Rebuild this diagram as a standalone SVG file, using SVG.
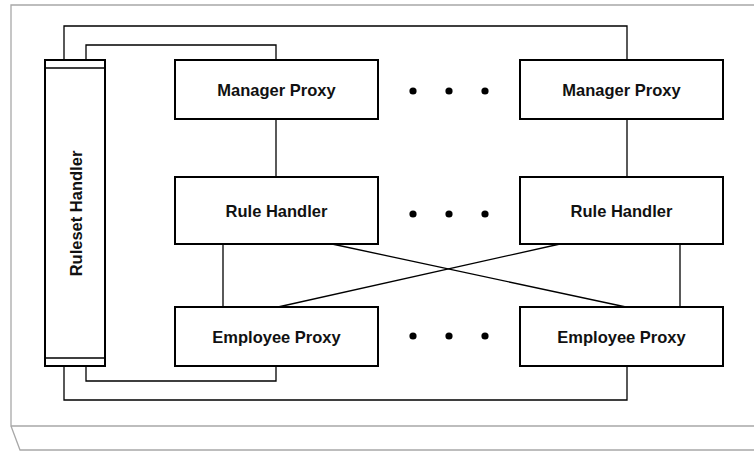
<svg xmlns="http://www.w3.org/2000/svg" width="754" height="451" viewBox="0 0 754 451">
<style>
.frame{fill:none;stroke:#a8a8a8;stroke-width:1.3}
.box{fill:#fff;stroke:#000;stroke-width:2}
.conn{fill:none;stroke:#000;stroke-width:1.3}
.lbl{font-family:"Liberation Sans",Arial,sans-serif;font-weight:bold;font-size:16.5px;fill:#111;text-anchor:middle}
.dot{fill:#000}
</style>
<rect width="754" height="451" fill="#fff"/>
<g id="frame">
<path class="frame" d="M754,5 H11 V426 H754 M11,426 L20,450 H754"/>
</g>
<g id="connectors">
<path class="conn" d="M64,60 V26 H627 V60"/>
<path class="conn" d="M86,60 V45 H276 V60"/>
<path class="conn" d="M64,366 V400 H627 V366"/>
<path class="conn" d="M86,366 V381 H276 V366"/>
<path class="conn" d="M276,119 V177"/>
<path class="conn" d="M627,119 V177"/>
<path class="conn" d="M223,244 V307"/>
<path class="conn" d="M680,244 V307"/>
<path class="conn" d="M332,244 L626,307"/>
<path class="conn" d="M560,244 L278,307"/>
</g>
<g id="ruleset-handler">
<rect class="box" x="45" y="60" width="60" height="306"/>
<path class="conn" stroke-width="2" d="M45,68 H105 M45,358 H105"/>
<text class="lbl" transform="translate(81.5,213.5) rotate(-90)">Ruleset Handler</text>
</g>
<g id="manager-proxy-1">
<rect class="box" x="175" y="60" width="203" height="59"/>
<text class="lbl" x="276.5" y="96">Manager Proxy</text>
</g>
<g id="manager-proxy-2">
<rect class="box" x="520" y="60" width="203" height="59"/>
<text class="lbl" x="621.5" y="96">Manager Proxy</text>
</g>
<g id="rule-handler-1">
<rect class="box" x="175" y="177" width="203" height="67"/>
<text class="lbl" x="276.5" y="216.5">Rule Handler</text>
</g>
<g id="rule-handler-2">
<rect class="box" x="520" y="177" width="203" height="67"/>
<text class="lbl" x="621.5" y="216.5">Rule Handler</text>
</g>
<g id="employee-proxy-1">
<rect class="box" x="175" y="307" width="203" height="59"/>
<text class="lbl" x="276.5" y="342.5">Employee Proxy</text>
</g>
<g id="employee-proxy-2">
<rect class="box" x="520" y="307" width="203" height="59"/>
<text class="lbl" x="621.5" y="342.5">Employee Proxy</text>
</g>
<g id="ellipses">
<circle class="dot" cx="413" cy="91" r="3.6"/>
<circle class="dot" cx="449" cy="91" r="3.6"/>
<circle class="dot" cx="485" cy="91" r="3.6"/>
<circle class="dot" cx="413" cy="214" r="3.6"/>
<circle class="dot" cx="449" cy="214" r="3.6"/>
<circle class="dot" cx="485" cy="214" r="3.6"/>
<circle class="dot" cx="413" cy="336" r="3.6"/>
<circle class="dot" cx="449" cy="336" r="3.6"/>
<circle class="dot" cx="485" cy="336" r="3.6"/>
</g>
</svg>
